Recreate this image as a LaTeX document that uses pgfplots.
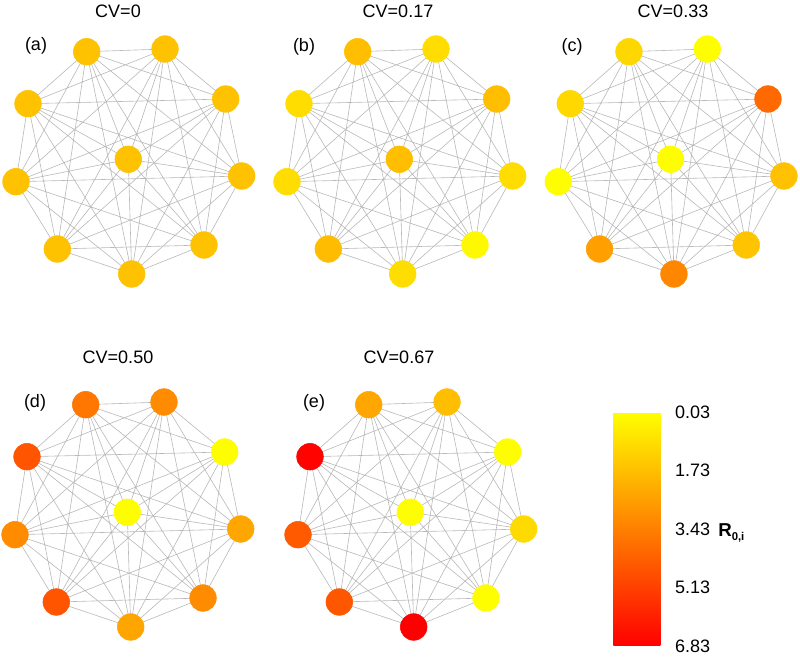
\documentclass[border=0pt]{standalone}
\usepackage{pgfplots}
\pgfplotsset{compat=1.18}
\usepackage{pgfplotstable}
\usepackage{fontspec}
\setmainfont{Liberation Sans}

% node positions (relative to panel (a), pixels) and R0,i values for panels a-e
\pgfplotstableread{
x y a b c d e
86.7 51.7 1.65 1.74 1.10 3.66 2.35
165 49 1.65 0.94 0.05 3.10 1.73
225.7 99 1.65 1.74 4.00 0.05 0.05
241.7 176 1.65 0.94 1.68 2.35 1.00
204 245 1.65 0.20 1.60 3.10 0.05
131.7 274 1.65 0.94 3.20 2.40 6.83
57.3 249 1.65 1.80 2.56 4.56 4.50
16 181.7 1.65 0.94 0.05 3.10 4.40
28 103.7 1.65 0.94 1.07 4.56 6.70
128.3 159.3 1.65 1.74 0.05 0.05 0.05
}\nodes

\pgfplotstableread{
x y
86.7 51.7
165 49
nan nan
86.7 51.7
225.7 99
nan nan
86.7 51.7
241.7 176
nan nan
86.7 51.7
204 245
nan nan
86.7 51.7
131.7 274
nan nan
86.7 51.7
57.3 249
nan nan
86.7 51.7
16 181.7
nan nan
86.7 51.7
28 103.7
nan nan
86.7 51.7
128.3 159.3
nan nan
165 49
225.7 99
nan nan
165 49
241.7 176
nan nan
165 49
204 245
nan nan
165 49
131.7 274
nan nan
165 49
57.3 249
nan nan
165 49
16 181.7
nan nan
165 49
28 103.7
nan nan
165 49
128.3 159.3
nan nan
225.7 99
241.7 176
nan nan
225.7 99
204 245
nan nan
225.7 99
131.7 274
nan nan
225.7 99
57.3 249
nan nan
225.7 99
16 181.7
nan nan
225.7 99
28 103.7
nan nan
225.7 99
128.3 159.3
nan nan
241.7 176
204 245
nan nan
241.7 176
131.7 274
nan nan
241.7 176
57.3 249
nan nan
241.7 176
16 181.7
nan nan
241.7 176
28 103.7
nan nan
241.7 176
128.3 159.3
nan nan
204 245
131.7 274
nan nan
204 245
57.3 249
nan nan
204 245
16 181.7
nan nan
204 245
28 103.7
nan nan
204 245
128.3 159.3
nan nan
131.7 274
57.3 249
nan nan
131.7 274
16 181.7
nan nan
131.7 274
28 103.7
nan nan
131.7 274
128.3 159.3
nan nan
57.3 249
16 181.7
nan nan
57.3 249
28 103.7
nan nan
57.3 249
128.3 159.3
nan nan
16 181.7
28 103.7
nan nan
16 181.7
128.3 159.3
nan nan
28 103.7
128.3 159.3
}\edges

\begin{document}
\begin{tikzpicture}
\begin{axis}[
  x=0.75pt, y=0.75pt,
  xmin=0, xmax=800, ymin=0, ymax=654,
  y dir=reverse,
  hide axis, clip=false,
  colormap={yr}{rgb255=(255,255,0) rgb255=(255,0,0)},
  point meta min=0.03, point meta max=6.83,
  colorbar,
  colorbar/width=35.25pt,
  colorbar style={
    at={(parent axis.south west)}, anchor=south west,
    xshift=451.5pt, yshift=6pt,
    scale only axis,
    width=35.25pt, height=175.5pt,
    y dir=reverse,
    ytick={0.03,1.73,3.43,5.13,6.83},
    yticklabels={0.03,1.73,3.43,5.13,6.83},
    yticklabel style={font=\fontsize{13.5}{15}\selectfont, xshift=7.5pt},
    axis line style={draw=none},
    major tick length=0pt,
  },
  edge/.style={draw=black!28, line width=0.45pt, mark=none, unbounded coords=jump},
  nd/.style={scatter, only marks, mark=*, mark size=10pt, point meta=explicit,
     scatter/use mapped color={draw=mapped color, fill=mapped color}},
]
\path (axis cs:0,0) rectangle (axis cs:800,654);

% panel (a)
\addplot[edge] table[x=x,y=y]{\edges};
\addplot[nd] table[x=x,y=y,meta=a]{\nodes};
% panel (b)
\addplot[edge, xshift=203.25pt] table[x=x,y=y]{\edges};
\addplot[nd, xshift=203.25pt] table[x=x,y=y,meta=b]{\nodes};
% panel (c)
\addplot[edge, xshift=406.7pt] table[x=x,y=y]{\edges};
\addplot[nd, xshift=406.7pt] table[x=x,y=y,meta=c]{\nodes};
% panel (d)
\addplot[edge, xshift=-0.75pt, yshift=-264.75pt] table[x=x,y=y]{\edges};
\addplot[nd, xshift=-0.75pt, yshift=-264.75pt] table[x=x,y=y,meta=d]{\nodes};
% panel (e)
\addplot[edge, xshift=211.5pt, yshift=-264.75pt] table[x=x,y=y]{\edges};
\addplot[nd, xshift=211.5pt, yshift=-264.75pt] table[x=x,y=y,meta=e]{\nodes};

\begin{scope}[font=\fontsize{13.5}{15}\selectfont]
\node at (axis cs:118,11) {CV=0};
\node at (axis cs:398,11) {CV=0.17};
\node at (axis cs:673,11) {CV=0.33};
\node at (axis cs:118,357) {CV=0.50};
\node at (axis cs:399,357) {CV=0.67};
\node at (axis cs:36,46) {(a)};
\node at (axis cs:304,47) {(b)};
\node at (axis cs:572,47) {(c)};
\node at (axis cs:35,403) {(d)};
\node at (axis cs:314,403) {(e)};
\end{scope}
\node[anchor=west, inner sep=0pt] at (axis cs:718,533)
  {\fontsize{14}{15}\selectfont\bfseries R\raisebox{-0.35ex}{\fontsize{8.5}{10}\selectfont 0,i}};
\end{axis}
\end{tikzpicture}
\end{document}
